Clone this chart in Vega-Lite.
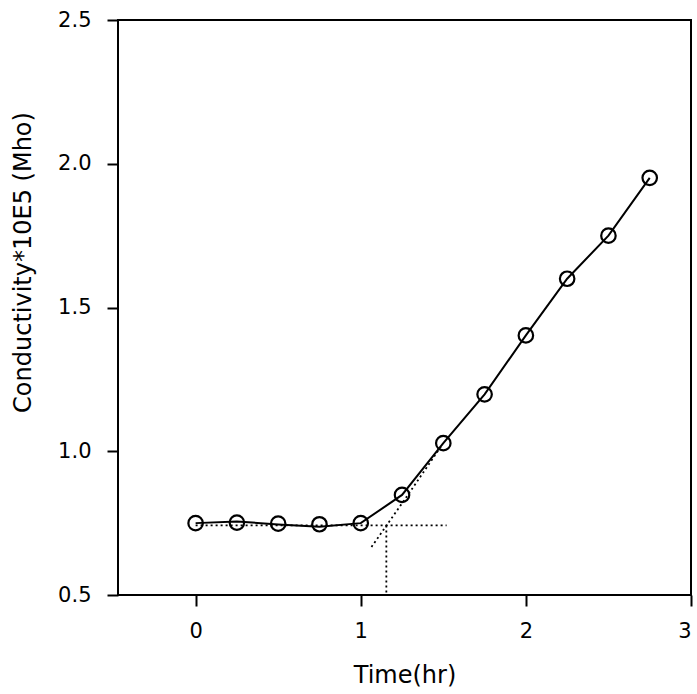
{
  "$schema": "https://vega.github.io/schema/vega-lite/v6.json",
  "width": 573,
  "height": 575,
  "autosize": {"type": "none"},
  "padding": {"left": 118, "top": 20, "right": 6, "bottom": 99},
  "background": "white",
  "config": {
    "view": {"stroke": "black", "strokeWidth": 2},
    "font": "DejaVu Sans",
    "axis": {
      "domain": false,
      "grid": false,
      "tickColor": "black",
      "tickWidth": 2,
      "tickSize": 11,
      "labelColor": "black",
      "labelFontSize": 21,
      "labelFont": "DejaVu Sans",
      "titleColor": "black",
      "titleFontSize": 24,
      "titleFont": "DejaVu Sans",
      "titleFontWeight": "normal"
    }
  },
  "datasets": {
    "pts": [
      {"t": 0, "c": 0.75},
      {"t": 0.25, "c": 0.752},
      {"t": 0.5, "c": 0.748},
      {"t": 0.75, "c": 0.746},
      {"t": 1.0, "c": 0.75},
      {"t": 1.25, "c": 0.848},
      {"t": 1.5, "c": 1.028},
      {"t": 1.75, "c": 1.198},
      {"t": 2.0, "c": 1.403},
      {"t": 2.25, "c": 1.6},
      {"t": 2.5, "c": 1.75},
      {"t": 2.75, "c": 1.951}
    ],
    "curve": [
      {"t": 0, "c": 0.75},
      {"t": 0.25, "c": 0.756},
      {"t": 0.5, "c": 0.745},
      {"t": 0.75, "c": 0.737},
      {"t": 1.0, "c": 0.75},
      {"t": 1.25, "c": 0.848},
      {"t": 1.5, "c": 1.028},
      {"t": 1.75, "c": 1.198},
      {"t": 2.0, "c": 1.403},
      {"t": 2.25, "c": 1.6},
      {"t": 2.5, "c": 1.75},
      {"t": 2.75, "c": 1.951}
    ],
    "guides": [
      {"s": "h", "o": 1, "t": 0, "c": 0.742},
      {"s": "h", "o": 2, "t": 1.52, "c": 0.742},
      {"s": "v", "o": 1, "t": 1.155, "c": 0.742},
      {"s": "v", "o": 2, "t": 1.155, "c": 0.5},
      {"s": "tan", "o": 1, "t": 1.065, "c": 0.667},
      {"s": "tan", "o": 2, "t": 1.16, "c": 0.745},
      {"s": "tan", "o": 3, "t": 1.3, "c": 0.86},
      {"s": "tan", "o": 4, "t": 1.49, "c": 1.02}
    ]
  },
  "layer": [
    {
      "data": {"name": "guides"},
      "mark": {"type": "line", "color": "black", "strokeWidth": 1.8, "strokeDash": [2, 3]},
      "encoding": {
        "x": {"field": "t", "type": "quantitative", "scale": {"domain": [-0.47, 3], "nice": false, "zero": false},
          "axis": {"values": [0, 1, 2, 3], "format": "d", "title": "Time(hr)", "labelPadding": 14, "titlePadding": 22}},
        "y": {"field": "c", "type": "quantitative", "scale": {"domain": [0.5, 2.5], "nice": false, "zero": false},
          "axis": {"values": [0.5, 1.0, 1.5, 2.0, 2.5], "format": ".1f", "title": "Conductivity*10E5 (Mho)", "labelPadding": 16,
            "titleX": -95, "titleY": 242, "titleAlign": "center", "titleBaseline": "middle", "titleAngle": -90}},
        "detail": {"field": "s"},
        "order": {"field": "o"}
      }
    },
    {
      "data": {"name": "curve"},
      "mark": {"type": "line", "color": "black", "strokeWidth": 2},
      "encoding": {
        "x": {"field": "t", "type": "quantitative"},
        "y": {"field": "c", "type": "quantitative"}
      }
    },
    {
      "data": {"name": "pts"},
      "mark": {"type": "point", "shape": "circle", "size": 210, "color": "black", "strokeWidth": 2.2, "filled": false, "opacity": 1},
      "encoding": {
        "x": {"field": "t", "type": "quantitative"},
        "y": {"field": "c", "type": "quantitative"}
      }
    }
  ]
}
